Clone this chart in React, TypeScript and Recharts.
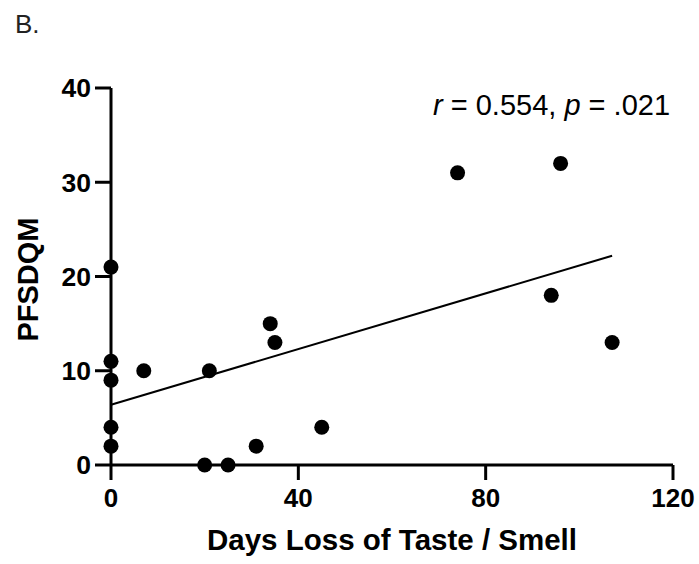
import React from 'react';
import { ScatterChart, Scatter, XAxis, YAxis, Label } from 'recharts';

const xDays = [0, 0, 0, 0, 0, 7, 20, 21, 25, 31, 34, 35, 45, 74, 94, 96, 107];
const yScore = [21, 11, 9, 4, 2, 10, 0, 10, 0, 2, 15, 13, 4, 31, 18, 32, 13];
const fitX = [0, 107];
const fitY = [6.4, 22.2];
const xTicks = [0, 40, 80, 120];
const yTicks = [0, 10, 20, 30, 40];

const points = xDays.map((x, i) => ({ x, y: yScore[i] }));
const fitLine = fitX.map((x, i) => ({ x, y: fitY[i] }));

const FONT = '"Liberation Sans", Arial, sans-serif';

const Dot = (props: any) => {
  const { cx, cy } = props;
  if (cx == null || cy == null) return <g />;
  return <circle cx={cx} cy={cy} r={7.5} fill="#000" />;
};

const NoShape = () => <g />;

const XTitle = (props: any) => {
  const vb = props.viewBox || {};
  return (
    <text
      x={vb.x + vb.width / 2}
      y={550}
      textAnchor="middle"
      fontFamily={FONT}
      fontWeight="bold"
      fontSize={29.5}
      fill="#000"
    >
      Days Loss of Taste / Smell
    </text>
  );
};

const YTitle = (props: any) => {
  const vb = props.viewBox || {};
  const cy = vb.y + vb.height / 2 + 3;
  return (
    <text
      x={38}
      y={cy}
      transform={`rotate(-90 38 ${cy})`}
      textAnchor="middle"
      fontFamily={FONT}
      fontWeight="bold"
      fontSize={29}
      fill="#000"
    >
      PFSDQM
    </text>
  );
};

export default function App() {
  return (
    <div style={{ position: 'absolute', left: 0, top: 0, width: 699, height: 564, background: '#fff' }}>
      <ScatterChart
        width={699}
        height={564}
        margin={{ top: 88, right: 26, bottom: 0, left: 0 }}
      >
        <XAxis
          type="number"
          dataKey="x"
          domain={[0, 120]}
          ticks={xTicks}
          interval={0}
          height={99}
          tickSize={15}
          tickMargin={9}
          axisLine={{ stroke: '#000', strokeWidth: 3 }}
          tickLine={{ stroke: '#000', strokeWidth: 3 }}
          tick={{ fill: '#000', fontSize: 26, fontWeight: 'bold', fontFamily: FONT }}
        >
          <Label content={XTitle} />
        </XAxis>
        <YAxis
          type="number"
          dataKey="y"
          domain={[0, 40]}
          ticks={yTicks}
          interval={0}
          width={111}
          tickSize={16}
          tickMargin={4}
          axisLine={{ stroke: '#000', strokeWidth: 3 }}
          tickLine={{ stroke: '#000', strokeWidth: 3 }}
          tick={{ fill: '#000', fontSize: 26.5, fontWeight: 'bold', fontFamily: FONT }}
        >
          <Label content={YTitle} />
        </YAxis>
        <Scatter
          data={fitLine}
          line={{ stroke: '#000', strokeWidth: 2 }}
          shape={NoShape}
          isAnimationActive={false}
          legendType="none"
        />
        <Scatter data={points} shape={Dot} fill="#000" isAnimationActive={false} />
      </ScatterChart>
      <svg
        width={699}
        height={564}
        style={{ position: 'absolute', left: 0, top: 0, pointerEvents: 'none' }}
      >
        <text x={15} y={33} fontFamily={FONT} fontSize={26} fill="#222">B.</text>
        <text x={433} y={115} fontFamily={FONT} fontSize={29} fill="#000">
          <tspan fontStyle="italic">r</tspan>
          {' = 0.554, '}
          <tspan fontStyle="italic">p</tspan>
          {' = .021'}
        </text>
      </svg>
    </div>
  );
}
